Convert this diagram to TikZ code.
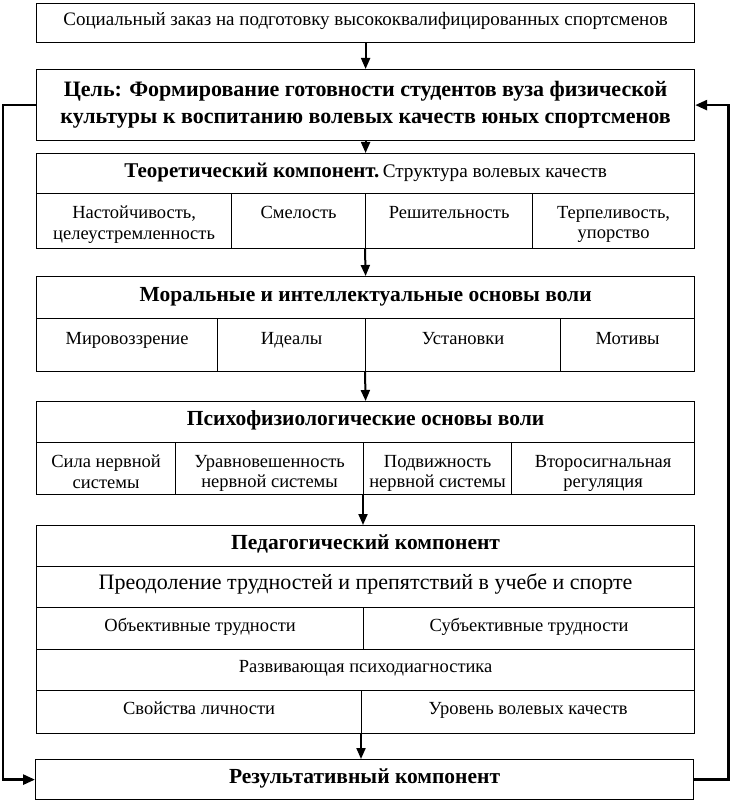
\documentclass[tikz,border=0pt]{standalone}
\usepackage{fontspec}
\setmainfont{Liberation Serif}
\usetikzlibrary{arrows.meta}
\tikzset{
  box/.style={draw, line width=1.2pt, inner sep=0pt, anchor=north west, align=center},
  txt/.style={inner sep=0pt, align=center, text height=0.7em, text depth=0.22em, font=\fontsize{18.5}{21}\selectfont},
  tc/.style={inner sep=0pt, align=center, anchor=north, font=\fontsize{18.5}{20.5}\selectfont},
  hd/.style={text height=0.86em, text depth=0.1em, font=\fontsize{21.5}{25}\selectfont\bfseries},
  arr/.style={line width=2pt, -{Triangle[length=11pt,width=9pt]}},
  loop/.style={line width=2.6pt, -{Triangle[length=12pt,width=10pt]}},
}
\begin{document}
\begin{tikzpicture}[x=1pt,y=-1pt]
\useasboundingbox (0,0) rectangle (730,802);
% social order
\node[box, txt, anchor=north west, minimum width=658pt, minimum height=39pt, font=\fontsize{19}{22}\selectfont] (soc) at (36,3) {Социальный заказ на подготовку высококвалифицированных спортсменов};
% goal
\node[box, minimum width=658pt, minimum height=71pt, font=\fontsize{22}{27}\selectfont\bfseries] (goal) at (36,69) {Цель: Формирование готовности студентов вуза физической\\культуры к воспитанию волевых качеств юных спортсменов};
% theoretical component
\node[box, minimum width=658pt, minimum height=40pt, text height=0.86em, text depth=0.1em] (th) at (36,153) {{\fontsize{21}{25}\selectfont\bfseries Теоретический компонент.} {\fontsize{19.2}{23}\selectfont Структура волевых качеств}};
\node[box, minimum width=195pt, minimum height=55pt] (t1) at (36,193) {};
\node[box, minimum width=134pt, minimum height=55pt] (t2) at (231,193) {};
\node[box, minimum width=167pt, minimum height=55pt] (t3) at (365,193) {};
\node[box, minimum width=162pt, minimum height=55pt] (t4) at (532,193) {};
\node[tc] (t1t) at ([yshift=-13pt]t1.north) {Настойчивость,\\целеустремленность};
\node[tc] (t2t) at ([yshift=-13pt]t2.north) {Смелость};
\node[tc] (t3t) at ([yshift=-13pt]t3.north) {Решительность};
\node[tc] (t4t) at ([yshift=-13pt]t4.north) {Терпеливость,\\упорство};
% moral
\node[box, hd, minimum width=658pt, minimum height=42pt] (mh) at (36,276) {Моральные и интеллектуальные основы воли};
\node[box, minimum width=181pt, minimum height=53pt] (m1) at (36,318) {};
\node[box, minimum width=148pt, minimum height=53pt] (m2) at (217,318) {};
\node[box, minimum width=195pt, minimum height=53pt] (m3) at (365,318) {};
\node[box, minimum width=134pt, minimum height=53pt] (m4) at (560,318) {};
\node[tc] (m1t) at ([yshift=-14pt]m1.north) {Мировоззрение};
\node[tc] (m2t) at ([yshift=-14pt]m2.north) {Идеалы};
\node[tc] (m3t) at ([yshift=-14pt]m3.north) {Установки};
\node[tc] (m4t) at ([yshift=-14pt]m4.north) {Мотивы};
% psychophysiological
\node[box, hd, minimum width=658pt, minimum height=41pt] (ph) at (36,401) {Психофизиологические основы воли};
\node[box, minimum width=139pt, minimum height=52pt] (p1) at (36,442) {};
\node[box, minimum width=188pt, minimum height=52pt] (p2) at (175,442) {};
\node[box, minimum width=148pt, minimum height=52pt] (p3) at (363,442) {};
\node[box, minimum width=183pt, minimum height=52pt] (p4) at (511,442) {};
\node[tc] (p1t) at ([yshift=-13pt]p1.north) {Сила нервной\\системы};
\node[tc] (p2t) at ([yshift=-13pt]p2.north) {Уравновешенность\\нервной системы};
\node[tc] (p3t) at ([yshift=-13pt]p3.north) {Подвижность\\нервной системы};
\node[tc] (p4t) at ([yshift=-13pt]p4.north) {Второсигнальная\\регуляция};
% pedagogical
\node[box, hd, minimum width=658pt, minimum height=41pt] (pg) at (36,525) {Педагогический компонент};
\node[box, txt, anchor=north west, minimum width=658pt, minimum height=41pt, font=\fontsize{22}{26}\selectfont] (pg1) at (36,566) {Преодоление трудностей и препятствий в учебе и спорте};
\node[box, txt, anchor=north west, minimum width=327pt, minimum height=42pt] (ob) at (36,607) {Объективные трудности};
\node[box, txt, anchor=north west, minimum width=331pt, minimum height=42pt] (sb) at (363,607) {Субъективные трудности};
\node[box, txt, anchor=north west, minimum width=658pt, minimum height=41pt] (rp) at (36,649) {Развивающая психодиагностика};
\node[box, txt, anchor=north west, minimum width=325pt, minimum height=43pt] (sv) at (36,690) {Свойства личности};
\node[box, txt, anchor=north west, minimum width=333pt, minimum height=43pt] (ur) at (361,690) {Уровень волевых качеств};
% result
\node[box, hd, minimum width=658pt, minimum height=40pt] (res) at (35,759) {Результативный компонент};
% arrows
\draw[arr] (soc.south) -- (goal.north);
\draw[arr] (goal.south) -- (th.north);
\draw[arr] (t3.south west) -- (mh.north);
\draw[arr] (m3.south west) -- (ph.north);
\draw[arr] (p3.south west) -- (p3.south west |- pg.north);
\draw[arr] (ur.south west) -- (ur.south west |- res.north);
\draw[loop] (goal.west) -- ++(-33,0) |- (res.west);
\draw[loop] (res.east) -- ++(34,0) |- (goal.east);
\end{tikzpicture}
\end{document}
